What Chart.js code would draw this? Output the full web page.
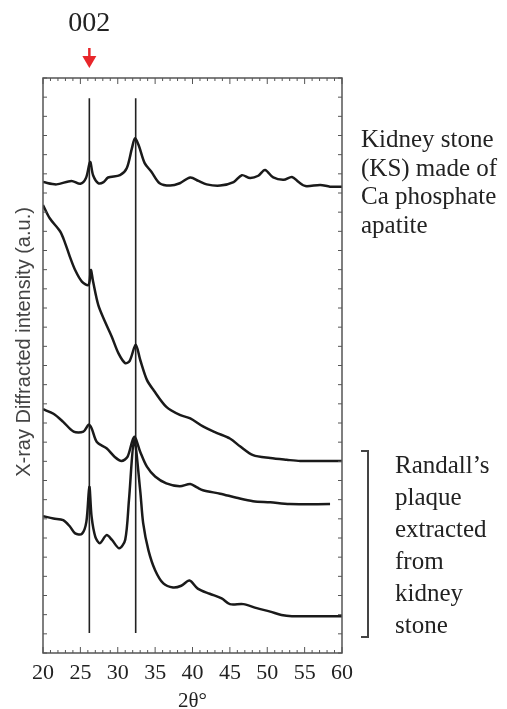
<!DOCTYPE html>
<html>
<head>
<meta charset="utf-8">
<title>XRD patterns</title>
<script src="https://cdn.jsdelivr.net/npm/chart.js@4.4.1/dist/chart.umd.min.js"></script>
<style>
  html, body { margin: 0; padding: 0; background: #fff; }
  #xrd { display: block; }
</style>
</head>
<body>
<canvas id="xrd" width="507" height="709"></canvas>
<script>
// 2θ tick labels
const angleTicks = [20, 25, 30, 35, 40, 45, 50, 55, 60];

// kidney stone (KS), top pattern
const ksAngle = [20, 21.8, 23.8, 25, 25.75, 26.3, 26.7, 27.4, 28.1, 28.7, 30.3, 31.2, 31.9, 32.3, 32.8, 33.6, 34.5, 35.6, 37, 38.3, 39.7, 40.8, 41.9, 43.7, 45.5, 46.6, 47.7, 48.8, 49.7, 50.8, 52.2, 53.3, 54.2, 55.1, 57.1, 58.4, 60];
const ksIntensity = [81.9, 81.5, 82.1, 81.6, 82.6, 85.4, 83.1, 81.7, 81.9, 82.7, 83.1, 84.3, 87.8, 89.5, 88.3, 85.2, 83.7, 81.7, 81.3, 81.7, 82.7, 82.1, 81.5, 81.3, 81.9, 83.1, 82.6, 83.0, 84.0, 82.7, 82.3, 82.8, 81.9, 81.2, 81.4, 81.1, 81.1];

// Randall's plaque, sample A
const rpAAngle = [20, 20.9, 22.3, 22.9, 23.6, 24.3, 25.2, 26.1, 26.4, 26.7, 27.4, 28.3, 29.2, 30.1, 31, 31.6, 32.4, 33, 33.9, 34.8, 36.5, 38.3, 39.7, 41.4, 43.2, 45, 46.4, 48.1, 50.4, 52.6, 54.4, 60];
const rpAIntensity = [77.9, 75.6, 73.3, 71.5, 68.9, 66.6, 64.6, 64.0, 66.6, 64.6, 60.5, 57.6, 55.0, 52.1, 50.4, 50.8, 53.6, 51.0, 47.5, 45.7, 42.8, 41.4, 40.8, 39.4, 38.3, 37.3, 35.9, 34.4, 33.9, 33.6, 33.4, 33.4];

// Randall's plaque, sample B
const rpBAngle = [20, 21.4, 22.7, 24.1, 25.4, 26.1, 26.5, 27.2, 28.5, 29.6, 30.5, 31.3, 32.2, 33, 33.9, 35, 36.5, 38.3, 39.7, 40.6, 41.4, 43.7, 45.9, 48.1, 50.4, 53, 58.4];
const rpBIntensity = [42.4, 41.6, 40.2, 38.5, 38.5, 39.7, 39.1, 36.7, 35.6, 34.1, 33.4, 34.1, 37.6, 35.0, 32.4, 30.7, 29.5, 29.0, 29.4, 28.8, 28.3, 27.7, 27.0, 26.4, 26.2, 25.9, 25.9];

// Randall's plaque, sample C
const rpCAngle = [20, 21.4, 22.7, 23.6, 24.3, 25.2, 25.8, 26.2, 26.5, 27, 27.6, 28.5, 29.2, 30.2, 31, 31.5, 32.2, 33, 33.4, 34.1, 35, 36.1, 37.4, 38.5, 39.6, 40.7, 42.3, 43.9, 45, 46.8, 48.6, 50.4, 51.9, 53.3, 60];
const rpCIntensity = [23.8, 23.4, 23.1, 22.0, 20.8, 20.7, 22.8, 28.9, 23.7, 20.2, 19.1, 20.5, 19.7, 18.2, 19.7, 26.6, 37.0, 28.3, 22.6, 17.9, 14.4, 12.1, 11.4, 11.7, 12.6, 11.2, 10.3, 9.5, 8.5, 8.5, 7.8, 7.2, 6.6, 6.4, 6.4];

// reference peak positions (002 and the main apatite peak)
const peakAngles = [26.2, 32.4];
const peakSpan = [3.5, 96.5];

const serif = '"Liberation Serif", "DejaVu Serif", serif';

function toPoints(xs, ys) {
    return xs.map((x, i) => ({ x: x, y: ys[i] }));
}

function patternSet(xs, ys) {
    return {
        data: toPoints(xs, ys),
        borderColor: '#1a1a1a',
        borderWidth: 2.5,
        pointRadius: 0,
        tension: 0.3,
        fill: false
    };
}

const datasets = [
    patternSet(ksAngle, ksIntensity),
    patternSet(rpAAngle, rpAIntensity),
    patternSet(rpBAngle, rpBIntensity),
    patternSet(rpCAngle, rpCIntensity)
];
peakAngles.forEach(a => {
    datasets.push({
        data: peakSpan.map(v => ({ x: a, y: v })),
        borderColor: '#222',
        borderWidth: 1.6,
        pointRadius: 0,
        tension: 0
    });
});

// frame, inward ticks, labels and the bracket
const decorations = {
    id: 'decorations',
    afterDraw(chart) {
        const ctx = chart.ctx;
        const area = chart.chartArea;
        const xs = chart.scales.x;
        const ys = chart.scales.y;
        ctx.save();

        ctx.strokeStyle = '#555';
        ctx.lineWidth = 1.5;
        ctx.strokeRect(area.left, area.top, area.right - area.left, area.bottom - area.top);

        ctx.lineWidth = 1;
        ctx.beginPath();
        for (let v = 20; v <= 60; v++) {
            const px = xs.getPixelForValue(v);
            const len = v % 5 === 0 ? 6 : 3;
            ctx.moveTo(px, area.bottom);
            ctx.lineTo(px, area.bottom - len);
            ctx.moveTo(px, area.top);
            ctx.lineTo(px, area.top + len);
        }
        ys.ticks.forEach(t => {
            const py = ys.getPixelForValue(t.value);
            ctx.moveTo(area.left, py);
            ctx.lineTo(area.left + 4, py);
            ctx.moveTo(area.right, py);
            ctx.lineTo(area.right - 4, py);
        });
        ctx.stroke();

        // 002 marker
        const ax = xs.getPixelForValue(peakAngles[0]);
        ctx.fillStyle = '#222';
        ctx.font = '28px ' + serif;
        ctx.textAlign = 'center';
        ctx.textBaseline = 'middle';
        ctx.fillText('002', ax, 24);
        ctx.strokeStyle = '#e8262a';
        ctx.fillStyle = '#e8262a';
        ctx.lineWidth = 2.5;
        ctx.beginPath();
        ctx.moveTo(ax, 48);
        ctx.lineTo(ax, 60);
        ctx.stroke();
        ctx.beginPath();
        ctx.moveTo(ax - 7, 56);
        ctx.lineTo(ax + 7, 56);
        ctx.lineTo(ax, 68);
        ctx.closePath();
        ctx.fill();

        // axis titles
        ctx.fillStyle = '#222';
        ctx.font = '21px ' + serif;
        ctx.fillText('2θ°', (area.left + area.right) / 2, 701);

        ctx.save();
        ctx.translate(24, 342);
        ctx.rotate(-Math.PI / 2);
        ctx.fillStyle = '#444';
        ctx.font = '20px "Liberation Sans", Arial, sans-serif';
        ctx.fillText('X-ray Diffracted intensity (a.u.)', 0, 0);
        ctx.restore();

        // sample notes
        ctx.textAlign = 'left';
        ctx.textBaseline = 'alphabetic';
        ctx.fillStyle = '#222';
        ctx.font = '25px ' + serif;
        ['Kidney stone', '(KS) made of', 'Ca phosphate', 'apatite'].forEach((s, i) => {
            ctx.fillText(s, 361, 147 + i * 28.5);
        });
        ['Randall\u2019s', 'plaque', 'extracted', 'from', 'kidney', 'stone'].forEach((s, i) => {
            ctx.fillText(s, 395, 473 + i * 32);
        });

        ctx.strokeStyle = '#444';
        ctx.lineWidth = 2;
        ctx.beginPath();
        ctx.moveTo(361, 451);
        ctx.lineTo(368, 451);
        ctx.lineTo(368, 637);
        ctx.lineTo(361, 637);
        ctx.stroke();

        ctx.restore();
    }
};

new Chart(document.getElementById('xrd'), {
    type: 'line',
    data: { datasets: datasets },
    options: {
        responsive: false,
        animation: false,
        layout: { padding: { left: 0, right: 165, top: 78, bottom: 0 } },
        plugins: {
            legend: { display: false },
            tooltip: { enabled: false }
        },
        scales: {
            x: {
                type: 'linear',
                min: 20,
                max: 60,
                afterFit: s => { s.height = 56; },
                afterBuildTicks: s => { s.ticks = angleTicks.map(v => ({ value: v })); },
                grid: { display: false, drawTicks: false },
                border: { display: false },
                ticks: {
                    padding: 7,
                    color: '#222',
                    font: { family: serif, size: 22 }
                }
            },
            y: {
                type: 'linear',
                min: 0,
                max: 100,
                afterFit: s => { s.width = 43; },
                grid: { display: false, drawTicks: false },
                border: { display: false },
                ticks: { display: false, stepSize: 100 / 30 }
            }
        }
    },
    plugins: [decorations]
});
</script>
</body>
</html>
